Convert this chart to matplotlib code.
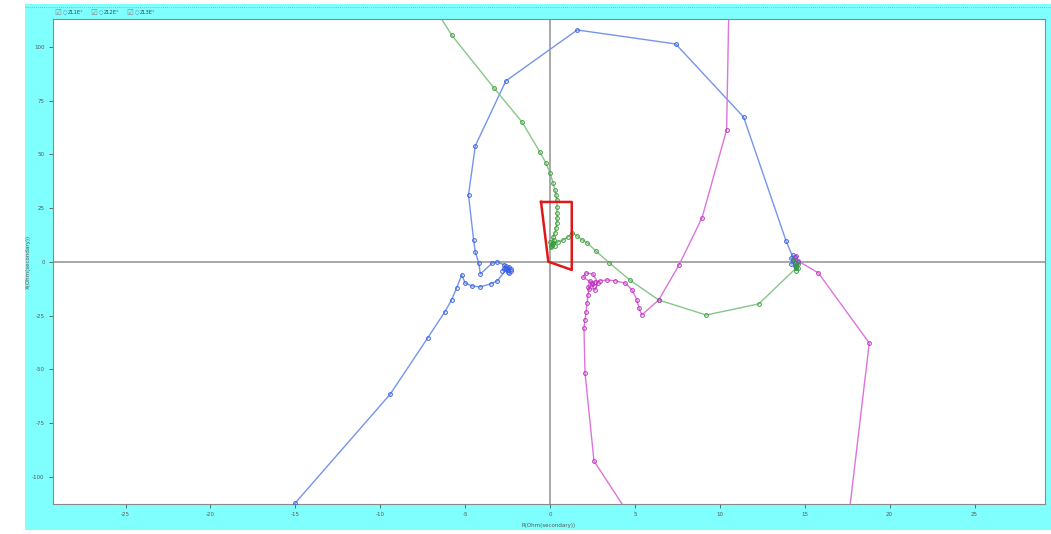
import numpy as np
import matplotlib
matplotlib.use("Agg")
import matplotlib.pyplot as plt
from matplotlib.patches import Rectangle
from matplotlib.lines import Line2D

nan = np.nan

# ---- data (R, X in Ohm secondary) ----
series_names = ["ZL1E°", "ZL2E°", "ZL3E°"]

blue_r = [14.5, 14.3, 14.6, 14.2, 14.4, 14.5, 14.3, 14.4, 14.2, 14.5, 13.9, 11.4, 7.4, 1.6,
          -2.6, -4.4, -4.8, -4.5, -4.4, -4.2, -4.1, -3.4, -3.1, -2.7, -2.5, -2.4, -2.7, -2.5,
          -2.3, -2.6, -2.8, -2.4, -2.6, -2.3, -2.5, -3.1, -3.5, -4.1, -4.6, -5.0, -5.2, -5.5,
          -5.8, -6.2, -7.2, -9.4, -15.0, -16.6]
blue_x = [-2.0, 1.0, 0.0, -1.0, 2.5, -3.0, 3.0, -0.5, 1.8, -1.5, 9.8, 67.4, 101.4, 107.9,
          84.2, 54.0, 31.2, 10.2, 4.7, -0.5, -5.6, -0.5, 0.0, -1.4, -3.7, -2.5, -3.0, -4.5,
          -3.5, -2.0, -4.0, -5.0, -3.2, -4.2, -2.8, -8.8, -10.2, -11.6, -11.2, -9.8, -6.0, -12.1,
          -17.7, -23.3, -35.3, -61.4, -112.1, -130.0]

green_r = [14.5, 14.4, 14.6, 14.3, 14.5, 14.4, 14.6, 14.5, 12.3, 9.2, 6.4, 4.7, 3.5, 2.7,
           2.2, 1.9, 1.6, 1.3, 1.06, 0.77, 0.47, 0.18, 0.06, 0.24, 0.12, 0.0, 0.29, 0.1, 0.2,
           0.05, 0.18, 0.29, 0.35, 0.41, 0.41, 0.41, 0.41, 0.41, 0.35, 0.29, 0.18, 0.0, -0.24,
           -0.6, -1.65, -3.3, -5.8, -7.1]
green_x = [-1.5, 0.5, -3.0, 1.5, -4.0, -2.0, -1.0, -2.8, -19.5, -24.7, -17.7, -8.4, -0.5, 5.1,
           8.8, 10.2, 12.1, 13.5, 11.6, 10.2, 9.3, 8.8, 7.0, 10.2, 7.9, 9.3, 7.4, 8.2, 8.6,
           7.6, 11.6, 13.5, 15.8, 18.1, 20.5, 22.8, 25.6, 28.8, 31.2, 33.5, 36.7, 41.4, 46.0,
           51.2, 65.1, 80.9, 105.6, 122.0]

mag_r = [14.5, 14.6, 15.8, 18.8, 17.3, nan, 10.55, 10.4, 8.95, 7.6, 6.4, 5.4, 5.24, 5.12,
         4.83, 4.42, 3.83, 3.36, 2.94, 2.65, 2.47, 1.94, 2.12, 2.53, 2.83, 2.65, 2.24, 2.36,
         2.59, 2.45, 2.3, 2.24, 2.18, 2.12, 2.06, 2.0, 2.06, 2.59, 5.6]
mag_x = [2.8, 0.5, -5.1, -37.7, -138.0, nan, 126.0, 61.4, 20.5, -1.4, -17.7, -24.7, -21.4,
         -17.7, -13.0, -9.8, -8.8, -8.4, -8.8, -9.3, -9.8, -7.0, -5.1, -5.6, -9.8, -13.0,
         -11.6, -8.8, -11.2, -10.4, -12.4, -15.3, -19.1, -23.3, -27.0, -30.7, -51.6, -92.6, -129.0]

zone_r = [-0.53, 1.28, 1.28, -0.10, -0.53]
zone_x = [27.9, 27.9, -3.7, 0.1, 27.9]

x_ticks = [-25, -20, -15, -10, -5, 0, 5, 10, 15, 20, 25]
y_ticks = [-100, -75, -50, -25, 0, 25, 50, 75, 100]

line_colors = ["#7594f0", "#88c688", "#dc74dc"]
marker_colors = ["#3a5fe0", "#3c9c3c", "#c030c0"]

# ---- figure ----
plt.rcParams["font.family"] = ["DejaVu Sans"]
fig = plt.figure(figsize=(10.51, 5.34), dpi=100, facecolor="white")
bg = Rectangle((25 / 1051, 4 / 534), 1 - 25 / 1051, 526 / 534,
               transform=fig.transFigure, facecolor="#80ffff",
               edgecolor="none", zorder=-10)
fig.patches.append(bg)
fig.lines.append(Line2D([25 / 1051, 1.0], [1 - 7 / 534, 1 - 7 / 534], transform=fig.transFigure,
                        color="#9a9a9a", lw=0.6, ls=(0, (1, 1.5)), zorder=-5))

ax = fig.add_axes([53 / 1051, 30 / 534, (1045 - 53) / 1051, (504 - 19) / 534])
ax.set_zorder(5)
ax.set_facecolor("white")
ax.set_xlim(-29.27, 29.15)
ax.set_ylim(-112.6, 113.0)

ax.axhline(0, color="#9a9a9a", lw=1.2, zorder=1)
ax.axvline(0, color="#9a9a9a", lw=1.2, zorder=1)

for r, x, lc, mc in [(blue_r, blue_x, line_colors[0], marker_colors[0]),
                     (green_r, green_x, line_colors[1], marker_colors[1]),
                     (mag_r, mag_x, line_colors[2], marker_colors[2])]:
    ax.plot(r, x, color=lc, lw=1.0, zorder=2)
    ax.plot(r, x, ls="none", marker="o", ms=2.7, mfc="none", mec=mc, mew=0.7, zorder=3)

ax.plot(zone_r, zone_x, color="#e01818", lw=1.8, zorder=4)

ax.set_xticks(x_ticks)
ax.set_yticks(y_ticks)
ax.set_xticklabels([str(v) for v in x_ticks])
ax.set_yticklabels([str(v) for v in y_ticks])
ax.tick_params(axis="both", labelsize=4, colors="#555555", length=3, width=0.6, pad=3)
for s in ax.spines.values():
    s.set_color("#8a8a8a")
    s.set_linewidth(0.8)

ax.set_xlabel("R(Ohm(secondary))", fontsize=4, color="#555555", labelpad=4)
ax.set_ylabel("X(Ohm(secondary))", fontsize=4, color="#555555", labelpad=1)

# legend-like header
xs = [54, 90, 126]
for i, name in enumerate(series_names):
    x0 = xs[i] / 1051
    yy = 1 - 12.5 / 534
    fig.text(x0, yy, "\u2611", fontsize=5.5, color="#888888", va="center", ha="left")
    fig.text(x0 + 8.5 / 1051, yy, "\u25cb", fontsize=3.8, color="#4a8ad8", va="center", ha="left")
    fig.text(x0 + 14 / 1051, yy, name, fontsize=3.8, color="#444444", va="center", ha="left")

fig.savefig("out.png", dpi=100, facecolor=fig.get_facecolor())
